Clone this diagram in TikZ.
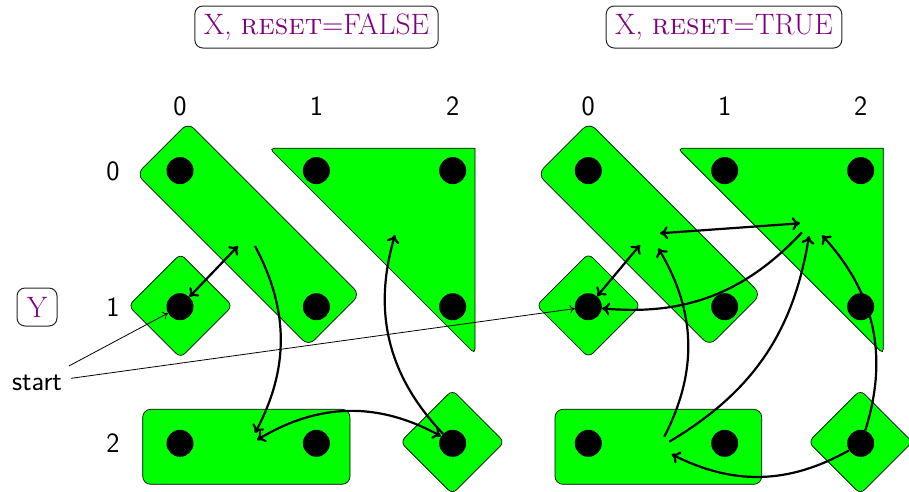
\documentclass[tikz,border=0pt]{standalone}
\usepackage{fontspec}
\usetikzlibrary{arrows.meta}
\begin{document}
\begin{tikzpicture}[x=1pt,y=1pt]
\tikzset{
  region/.style={draw=black, fill=green, line width=0.7pt},
  dot/.style={circle, fill=black, inner sep=0pt, minimum size=27pt},
  lbl/.style={font=\sffamily\fontsize{28}{33}\selectfont, inner sep=9pt},
  titlebox/.style={draw=black!85, rounded corners=8pt, line width=1pt, text=violet,
    font=\fontsize{29.5}{35}\selectfont, minimum height=42pt, inner xsep=9pt},
  link/.style={line width=2.2pt, -{Computer Modern Rightarrow[length=8pt,width=13pt]}},
  bilink/.style={line width=2.2pt, {Computer Modern Rightarrow[length=8pt,width=13pt]}-{Computer Modern Rightarrow[length=8pt,width=13pt]}},
  thinlink/.style={line width=0.8pt, -{Computer Modern Rightarrow[length=5pt,width=8pt]}},
}
\useasboundingbox (0,0) rectangle (909,-491);

% titles and side labels
\node[titlebox] (tfalse) at (316.5,-27) {X, \textsc{reset}=FALSE};
\node[titlebox] (ttrue) at (724,-27) {X, \textsc{reset}=TRUE};
\node[draw=black!85, rounded corners=8pt, line width=1pt, text=violet,
  font=\fontsize{29.5}{35}\selectfont, minimum width=40pt, minimum height=38pt,
  inner sep=0pt] (ylab) at (37,-307) {Y};
\node[lbl] (start) at (37,-383) {start};

% column and row indices
\foreach \i/\x in {0/180,1/316.4,2/452.7,0/588.3,1/724.7,2/860.7}
  \node[lbl] (c\i at \x) at (\x,-106) {\i};
\foreach \j/\y in {0/171,1/307,2/443}
  \node[lbl] (r\j) at (113,-\y) {\j};

% ---- left grid regions ----
\begin{scope}[shift={(248.3,-234.3)}, rotate=-45]
  \draw[region, rounded corners=8.5pt] (-121.5,-36.4) rectangle (121.5,36.4);
\end{scope}
\draw[region] (475,-148.3) [rounded corners=5pt] -- (475,-354) -- (269.3,-148.3) [sharp corners] -- cycle;
\draw[region, rounded corners=6pt] (180.5,-253.8) -- (232.5,-305.8) -- (180.5,-357.8) -- (128.5,-305.8) -- cycle;
\draw[region, rounded corners=6pt] (452.4,-390) -- (504.4,-442) -- (452.4,-494) -- (400.4,-442) -- cycle;
\draw[region, rounded corners=8pt] (142.7,-409.3) rectangle (350,-484.3);

% ---- right grid regions ----
\begin{scope}[shift={(649.3,-234.2)}, rotate=-45]
  \draw[region, rounded corners=8.5pt] (-121.5,-36.4) rectangle (121.5,36.4);
\end{scope}
\draw[region] (883.3,-148.3) [rounded corners=5pt] -- (883.3,-354) -- (677.6,-148.3) [sharp corners] -- cycle;
\draw[region, rounded corners=6pt] (588.5,-253.5) -- (640.5,-305.5) -- (588.5,-357.5) -- (536.5,-305.5) -- cycle;
\draw[region, rounded corners=6pt] (860.4,-390) -- (912.4,-442) -- (860.4,-494) -- (808.4,-442) -- cycle;
\draw[region, rounded corners=8pt] (555,-409.3) rectangle (761.7,-484.3);

% ---- dots ----
\foreach \r/\y in {0/170.6,1/306.7,2/443.3}{
  \foreach \c/\x in {0/180,1/316.4,2/452.7}
    \node[dot] (L\r\c) at (\x,-\y) {};
  \foreach \c/\x in {0/588.3,1/724.7,2/860.7}
    \node[dot] (R\r\c) at (\x,-\y) {};
}

% ---- arrow end points on the regions ----
\coordinate (aL1) at (238,-246);
\coordinate (aL2) at (255,-246);
\coordinate (aL3) at (255,-433);
\coordinate (aL4) at (257,-440);
\coordinate (aL5) at (395,-235);
\coordinate (aR1) at (640,-245);
\coordinate (aR2) at (660,-233.3);
\coordinate (aR3) at (800,-223.3);
\coordinate (aR4) at (802,-232.3);
\coordinate (aR5) at (664.3,-436.7);
\coordinate (aR6) at (658.3,-248.3);
\coordinate (aR7) at (669.3,-441.7);
\coordinate (aR8) at (809,-236);
\coordinate (aR9) at (822,-235.3);
\coordinate (aR10) at (671.7,-454.3);

% ---- transitions, reset=FALSE ----
\draw[bilink] (L10) -- (aL1);
\draw[link] (aL2) to[bend left=28] (aL3);
\draw[bilink] (aL4) to[bend left=30] (L22);
\draw[link] (L22) to[bend left=30] (aL5);

% ---- transitions, reset=TRUE ----
\draw[bilink] (R10) -- (aR1);
\draw[bilink] (aR2) -- (aR3);
\draw[link] (aR4) to[bend left=26] (R10);
\draw[link] (aR5) to[bend right=29] (aR6);
\draw[link] (aR7) to[bend right=25] (aR8);
\draw[link] (R22) to[bend right=30] (aR9);
\draw[link] (R22) to[bend left=28] (aR10);

% ---- initial states ----
\draw[thinlink] (start) -- (L10);
\draw[thinlink] (start) -- (R10);
\end{tikzpicture}
\end{document}
